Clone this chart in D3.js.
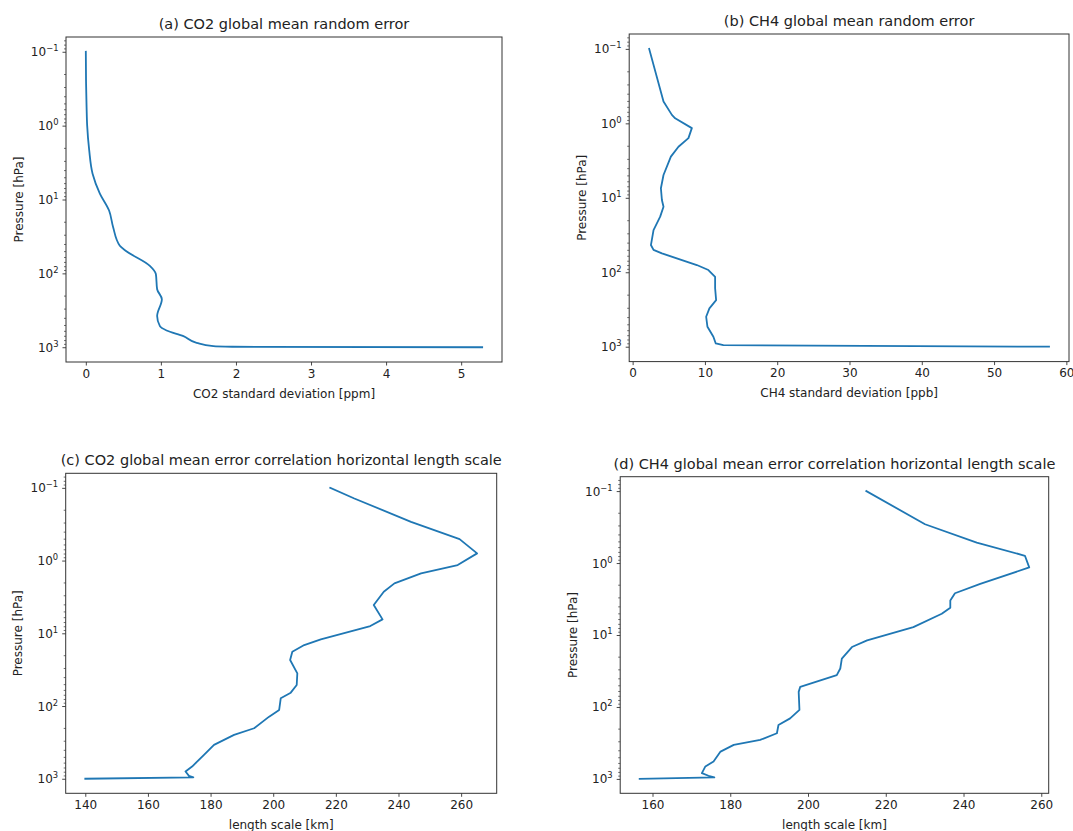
<!DOCTYPE html>
<html>
<head>
<meta charset="utf-8">
<script src="https://cdn.jsdelivr.net/npm/d3@7"></script>
<style>
  html, body { margin: 0; padding: 0; background: #ffffff; }
  svg { display: block; }
  text { font-family: "DejaVu Sans", sans-serif; fill: #222; }
</style>
</head>
<body>
<div id="chart"></div>
<script>
// ---------------- DATA ----------------
// (a) CO2 random error (ppm) vs pressure (hPa)
const co2StdPressure = [0.1, 0.25, 0.555, 1.0, 2.15, 4.47, 8.3, 14.1, 23.8, 42.3, 50.1, 79, 102, 164, 224, 378, 518, 593, 708, 871, 968, 985, 1000];
const co2Std         = [0.0, 0.003, 0.01, 0.018, 0.045, 0.09, 0.187, 0.31, 0.364, 0.453, 0.54, 0.853, 0.933, 0.95, 1.013, 0.95, 0.987, 1.076, 1.3, 1.476, 1.7, 1.95, 5.28];

// (b) CH4 random error (ppb) vs pressure (hPa)
const ch4StdPressure = [0.1, 0.51, 0.77, 0.855, 1.16, 1.58, 2.06, 2.8, 4.94, 7.45, 10.7, 13.2, 17.9, 27.1, 43.1, 50.1, 55.7, 80, 93.3, 115, 164, 237, 305, 396, 540, 736, 904, 955, 1000];
const ch4Std         = [2.29, 4.27, 5.43, 5.88, 8.19, 7.72, 6.34, 5.29, 4.27, 3.91, 4.05, 4.27, 3.81, 2.89, 2.53, 2.89, 4.05, 8.88, 10.48, 11.41, 11.41, 11.55, 10.62, 10.17, 10.35, 11.17, 11.5, 12.55, 57.6];

// (c) CO2 horizontal correlation length scale (km) vs pressure (hPa)
const co2LenPressure = [0.1, 0.14, 0.293, 0.507, 0.796, 1.153, 1.5, 2.06, 2.68, 4.08, 6.43, 7.94, 12.1, 14.5, 17.9, 23.3, 35.5, 51.3, 65.5, 78.2, 113, 140, 202, 249, 342, 470, 679, 794, 912, 955, 1000];
const co2Len         = [218.2, 225.9, 244.0, 259.5, 265.1, 258.9, 247.2, 238.7, 235.3, 232.1, 234.9, 231.0, 215.2, 209.9, 206.1, 205.4, 207.7, 207.5, 205.6, 202.4, 201.9, 198.7, 193.9, 187.5, 181.1, 177.9, 174.1, 172.0, 173.1, 174.5, 140.0];

// (d) CH4 horizontal correlation length scale (km) vs pressure (hPa)
const ch4LenPressure = [0.1, 0.289, 0.519, 0.792, 1.15, 1.95, 2.63, 3.32, 4.19, 5.07, 7.76, 11.9, 14.7, 21.3, 29.2, 36.2, 52.5, 61.7, 110, 144, 178, 232, 287, 337, 417, 573, 671, 830, 904, 953, 1000];
const ch4Len         = [215.0, 230.1, 243.4, 255.8, 256.9, 244.3, 237.8, 236.6, 236.6, 234.4, 227.1, 215.2, 211.3, 208.7, 208.3, 207.4, 198.0, 197.6, 197.8, 195.4, 192.4, 192.0, 187.7, 180.9, 177.5, 175.7, 173.6, 172.7, 174.4, 175.9, 156.7];

// tick values
const co2StdTicks = [0, 1, 2, 3, 4, 5];
const ch4StdTicks = [0, 10, 20, 30, 40, 50, 60];
const co2LenTicks = [140, 160, 180, 200, 220, 240, 260];
const ch4LenTicks = [160, 180, 200, 220, 240, 260];
const pressureTicks = [0.1, 1, 10, 100, 1000];

// text
const titles = [
  "(a) CO2 global mean random error",
  "(b) CH4 global mean random error",
  "(c) CO2 global mean error correlation horizontal length scale",
  "(d) CH4 global mean error correlation horizontal length scale"
];
const xLabels = [
  "CO2 standard deviation [ppm]",
  "CH4 standard deviation [ppb]",
  "length scale [km]",
  "length scale [km]"
];
const yLabel = "Pressure [hPa]";

// ---------------- LAYOUT ----------------
const W = 1073, H = 831;
const boxes = [
  { x0: 66,    x1: 502,    y0: 37,    y1: 362   },
  { x0: 629.2, x1: 1069,   y0: 34,    y1: 361.6 },
  { x0: 65.7,  x1: 496.7,  y0: 473.3, y1: 793.3 },
  { x0: 620.2, x1: 1048.7, y0: 476.7, y1: 793.3 }
];
const curves = [d3.curveMonotoneY, d3.curveLinear, d3.curveLinear, d3.curveLinear];

const panels = [
  { p: co2StdPressure, v: co2Std, xt: co2StdTicks },
  { p: ch4StdPressure, v: ch4Std, xt: ch4StdTicks },
  { p: co2LenPressure, v: co2Len, xt: co2LenTicks },
  { p: ch4LenPressure, v: ch4Len, xt: ch4LenTicks }
];

const svg = d3.select("#chart").append("svg")
  .attr("width", W).attr("height", H);

const LINE_COLOR = "#1f77b4";
const FRAME_COLOR = "#333";
const TICK_FONT = 12;
const TITLE_FONT = 14.5;

panels.forEach((pn, i) => {
  const b = boxes[i];
  const w = b.x1 - b.x0, h = b.y1 - b.y0;

  // matplotlib-style 5% margins
  const [vmin, vmax] = d3.extent(pn.v);
  const vpad = 0.05 * (vmax - vmin);
  const x = d3.scaleLinear().domain([vmin - vpad, vmax + vpad]).range([0, w]);

  const lp = pn.p.map(Math.log10);
  const [lmin, lmax] = d3.extent(lp);
  const lpad = 0.05 * (lmax - lmin);
  const y = d3.scaleLog()
    .domain([Math.pow(10, lmin - lpad), Math.pow(10, lmax + lpad)])
    .range([0, h]);

  const g = svg.append("g").attr("transform", `translate(${b.x0},${b.y0})`);

  // data line
  const line = d3.line()
    .x((d, k) => x(pn.v[k]))
    .y((d, k) => y(pn.p[k]))
    .curve(curves[i]);
  g.append("path")
    .datum(pn.p)
    .attr("d", line)
    .attr("fill", "none")
    .attr("stroke", LINE_COLOR)
    .attr("stroke-width", 1.8)
    .attr("stroke-linejoin", "round")
    .attr("stroke-linecap", "square");

  // x axis
  const xAxis = d3.axisBottom(x)
    .tickValues(pn.xt)
    .tickFormat(d3.format("d"))
    .tickSize(3.5)
    .tickPadding(3.5);
  const gx = g.append("g").attr("transform", `translate(0,${h})`).call(xAxis);
  gx.select(".domain").remove();
  gx.selectAll(".tick line").attr("stroke", FRAME_COLOR).attr("stroke-width", 0.9);
  gx.selectAll(".tick text")
    .style("font-family", "DejaVu Sans, sans-serif")
    .style("font-size", TICK_FONT + "px")
    .attr("fill", "#222");

  // y minor ticks
  const minor = y.ticks().filter(t => {
    const l = Math.log10(t);
    return Math.abs(l - Math.round(l)) > 1e-6;
  });
  const yMinor = d3.axisLeft(y).tickValues(minor).tickFormat("").tickSize(2);
  const gym = g.append("g").call(yMinor);
  gym.select(".domain").remove();
  gym.selectAll(".tick line").attr("stroke", FRAME_COLOR).attr("stroke-width", 0.7);

  // y major ticks
  const yMajor = d3.axisLeft(y).tickValues(pressureTicks).tickFormat("").tickSize(3.5);
  const gy = g.append("g").call(yMajor);
  gy.select(".domain").remove();
  gy.selectAll(".tick line").attr("stroke", FRAME_COLOR).attr("stroke-width", 0.9);

  // y tick labels: 10^k
  pressureTicks.forEach(t => {
    const k = Math.round(Math.log10(t));
    const txt = g.append("text")
      .attr("x", -7.5)
      .attr("y", y(t) + 4.5)
      .attr("text-anchor", "end")
      .style("font-size", TICK_FONT + "px");
    txt.append("tspan").text("10");
    txt.append("tspan")
      .attr("dy", -5)
      .style("font-size", "8.4px")
      .text(k < 0 ? "\u2212" + Math.abs(k) : String(k));
  });

  // frame
  g.append("rect")
    .attr("x", 0).attr("y", 0).attr("width", w).attr("height", h)
    .attr("fill", "none")
    .attr("stroke", FRAME_COLOR)
    .attr("stroke-width", 1);

  // title
  g.append("text")
    .attr("x", w / 2)
    .attr("y", -8)
    .attr("text-anchor", "middle")
    .style("font-size", TITLE_FONT + "px")
    .text(titles[i]);

  // x label
  g.append("text")
    .attr("x", w / 2)
    .attr("y", h + 35.5)
    .attr("text-anchor", "middle")
    .style("font-size", TICK_FONT + "px")
    .text(xLabels[i]);

  // y label
  g.append("text")
    .attr("transform", `translate(${-43.5},${h / 2}) rotate(-90)`)
    .attr("text-anchor", "middle")
    .style("font-size", TICK_FONT + "px")
    .text(yLabel);
});
</script>
</body>
</html>
